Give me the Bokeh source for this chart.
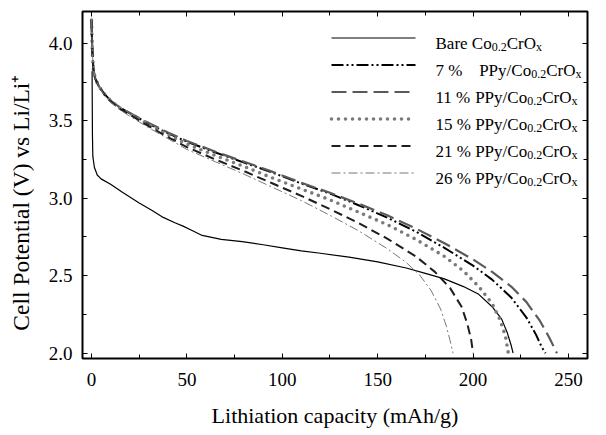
from bokeh.plotting import figure
from bokeh.models import LinearAxis, SingleIntervalTicker, Range1d, ColumnDataSource, PrintfTickFormatter, CustomJSTickFormatter
from bokeh.embed import file_html
from bokeh.resources import INLINE
from bokeh.core.properties import value

# ---------------- data ----------------
cap_bare = [0.3, 0.4, 0.5, 0.7, 1.5, 3, 5, 10, 16, 25, 32, 37, 44, 48, 53, 58, 68, 79, 90, 100,
            110, 120, 135, 150, 165, 175, 185, 195, 203, 210, 215, 218, 220, 221]
v_bare = [3.82, 3.6, 3.4, 3.27, 3.2, 3.15, 3.125, 3.09, 3.04, 2.97, 2.92, 2.88, 2.84, 2.82, 2.79, 2.76,
          2.735, 2.72, 2.70, 2.68, 2.66, 2.645, 2.62, 2.59, 2.55, 2.515, 2.48, 2.43, 2.38, 2.30, 2.22,
          2.13, 2.05, 2.0]

cap_7 = [0, 0.2, 0.5, 1, 2, 4, 7, 10, 15, 20, 30, 40, 50, 65, 80, 95, 110, 125, 140, 155, 170, 185,
         200, 210, 220, 228, 233, 236, 238]
v_7 = [4.15, 4.05, 3.93, 3.83, 3.77, 3.72, 3.67, 3.63, 3.585, 3.55, 3.48, 3.42, 3.365, 3.295, 3.23,
       3.165, 3.095, 3.03, 2.955, 2.875, 2.785, 2.68, 2.565, 2.475, 2.36, 2.23, 2.12, 2.04, 2.0]

cap_11 = [0, 0.2, 0.5, 1, 2, 4, 7, 10, 15, 20, 30, 40, 50, 65, 80, 95, 110, 125, 140, 155, 170, 185,
          200, 210, 220, 228, 235, 240, 244]
v_11 = [4.15, 4.05, 3.93, 3.83, 3.77, 3.72, 3.67, 3.63, 3.585, 3.55, 3.485, 3.425, 3.37, 3.30, 3.235,
        3.17, 3.10, 3.035, 2.965, 2.89, 2.805, 2.71, 2.605, 2.525, 2.43, 2.33, 2.21, 2.10, 2.0]

cap_15 = [0, 0.2, 0.5, 1, 2, 4, 7, 10, 15, 20, 30, 40, 50, 65, 80, 95, 110, 125, 140, 155, 170, 185,
          195, 203, 210, 214, 217, 218.5]
v_15 = [4.15, 4.05, 3.93, 3.83, 3.77, 3.72, 3.67, 3.63, 3.58, 3.545, 3.475, 3.41, 3.35, 3.275, 3.205,
        3.13, 3.06, 2.99, 2.91, 2.83, 2.735, 2.625, 2.53, 2.43, 2.32, 2.22, 2.11, 2.0]

cap_21 = [0, 0.2, 0.5, 1, 2, 4, 7, 10, 15, 20, 30, 40, 50, 65, 80, 95, 110, 125, 140, 155, 170, 180,
          188, 194, 197, 199, 200]
v_21 = [4.15, 4.05, 3.93, 3.83, 3.77, 3.72, 3.665, 3.625, 3.575, 3.54, 3.465, 3.395, 3.33, 3.25, 3.175,
        3.095, 3.015, 2.93, 2.84, 2.74, 2.625, 2.525, 2.42, 2.30, 2.19, 2.09, 2.0]

cap_26 = [0, 0.2, 0.5, 1, 2, 4, 7, 10, 15, 20, 30, 40, 50, 65, 80, 95, 110, 125, 140, 155, 165, 172,
          178, 183, 186, 188, 189.5]
v_26 = [4.15, 4.05, 3.93, 3.83, 3.77, 3.72, 3.66, 3.62, 3.57, 3.53, 3.455, 3.385, 3.315, 3.235, 3.155,
        3.07, 2.985, 2.89, 2.79, 2.675, 2.585, 2.505, 2.405, 2.285, 2.175, 2.08, 2.0]

legend_prefix = ["Bare ", "7 %", "11 % ", "15 % ", "21 % ", "26 % "]
x_label = "Lithiation capacity (mAh/g)"
y_label = "Cell Potential (V) vs Li/Li\u207a"

# ---------------- layout ----------------
W, H = 606, 435
FL, FR, FT, FB = 82, 587, 11, 358          # frame edges in pixels
X0, X1 = -4.72, 260.0
Y0, Y1 = 1.966, 4.205
FONT = "Liberation Serif"

p = figure(width=W, height=H, output_backend="svg", toolbar_location=None,
           x_range=Range1d(X0, X1), y_range=Range1d(Y0, Y1),
           min_border_left=FL, min_border_right=W - FR, min_border_top=FT, min_border_bottom=H - FB)
p.grid.visible = False
p.outline_line_color = "black"
p.outline_line_width = 2
p.background_fill_color = "white"
p.border_fill_color = "white"

xt = SingleIntervalTicker(interval=50, num_minor_ticks=2)
yt = SingleIntervalTicker(interval=0.5, num_minor_ticks=2)


def style(ax, labels=True):
    ax.axis_line_color = None
    ax.major_tick_in = 5
    ax.major_tick_out = 0
    ax.minor_tick_in = 4
    ax.minor_tick_out = 0
    ax.major_tick_line_color = "black"
    ax.minor_tick_line_color = "black"
    ax.major_label_text_font = FONT
    ax.major_label_text_color = "black"
    if labels:
        ax.major_label_text_font_size = "19px"
        ax.major_label_standoff = 10
        ax.axis_label_text_font = FONT
        ax.axis_label_text_font_style = "normal"
        ax.axis_label_text_color = "black"
    else:
        ax.formatter = CustomJSTickFormatter(code="return ''")
        ax.major_label_text_font_size = "1px"
        ax.major_label_standoff = 0


p.xaxis.ticker = xt
p.yaxis.ticker = yt
p.yaxis.formatter = PrintfTickFormatter(format="%.1f")
style(p.xaxis[0])
style(p.yaxis[0])
p.xaxis.axis_label = x_label
p.yaxis.axis_label = y_label + "\u00a0" * 6
p.xaxis.axis_label_text_font_size = "22px"
p.yaxis.axis_label_text_font_size = "23.5px"
p.xaxis.major_label_standoff = 14
p.xaxis.axis_label_standoff = 14
p.yaxis.axis_label_standoff = 12

top = LinearAxis(ticker=xt)
style(top, labels=False)
p.add_layout(top, "above")
right = LinearAxis(ticker=yt)
style(right, labels=False)
p.add_layout(right, "right")

# ---------------- series ----------------
styles = [
    dict(color="black", width=1.2, dash="solid", cap="butt"),          # bare
    dict(color="black", width=2.0, dash="12 3 2 3 2 3", cap="butt"),    # 7 %
    dict(color="#5a5a5a", width=2.2, dash="15 6", cap="butt"),          # 11 %
    dict(color="#7a7a7a", width=3.6, dash="0 7", cap="round"),          # 15 %
    dict(color="#1e1e1e", width=2.0, dash="9 5", cap="butt"),           # 21 %
    dict(color="#777777", width=1.0, dash="9 3 2 3", cap="butt"),       # 26 %
]
series = [(cap_bare, v_bare), (cap_7, v_7), (cap_11, v_11), (cap_15, v_15), (cap_21, v_21), (cap_26, v_26)]

for (xs, ys), st in zip(series, styles):
    p.line(xs, ys, line_color=st["color"], line_width=st["width"], line_dash=st["dash"],
           line_cap=st["cap"])


# ---------------- legend (drawn by hand for sub-scripts) ----------------
def dx(px):
    return X0 + (px - FL) / (FR - FL) * (X1 - X0)


def dy(py):
    return Y1 - (py - FT) / (FB - FT) * (Y1 - Y0)


TW = {' ': 250, '%': 833, '.': 250, '/': 278, 'B': 667, 'C': 667, 'O': 722, 'P': 556, 'a': 444,
      'e': 444, 'o': 500, 'r': 333, 'x': 500, 'y': 500}


def tw(s, size):
    return sum(TW.get(c, 500) for c in s) / 1000.0 * size


MAIN, SUB = 17, 12
row0, row_gap = 37.5, 27
samp_x0, samp_x1, text_x = 331, 415, 435
ppy_x = text_x + tw("11 % ", MAIN)

main_pieces = dict(x=[], y=[], t=[])
sub_pieces = dict(x=[], y=[], t=[])
for i, (pre, st) in enumerate(zip(legend_prefix, styles)):
    yc = row0 + i * row_gap
    p.line([dx(samp_x0), dx(samp_x1)], [dy(yc), dy(yc)], line_color=st["color"], line_width=st["width"],
           line_dash=st["dash"], line_cap=st["cap"])
    base = yc + 5
    if i == 0:
        parts = [("Bare Co", 0), ("0.2", 1), ("CrO", 0), ("x", 1)]
        cx = text_x
    else:
        main_pieces["x"].append(dx(text_x)); main_pieces["y"].append(dy(base)); main_pieces["t"].append(pre.strip())
        parts = [("PPy/Co", 0), ("0.2", 1), ("CrO", 0), ("x", 1)]
        cx = ppy_x + (4 if i == 1 else 0)
    for s, is_sub in parts:
        if is_sub:
            sub_pieces["x"].append(dx(cx)); sub_pieces["y"].append(dy(base + 4)); sub_pieces["t"].append(s)
            cx += tw(s, SUB)
        else:
            main_pieces["x"].append(dx(cx)); main_pieces["y"].append(dy(base)); main_pieces["t"].append(s)
            cx += tw(s, MAIN)

p.text(x="x", y="y", text="t", source=ColumnDataSource(main_pieces), text_font=value(FONT),
       text_font_size=f"{MAIN}px", text_color="black", text_baseline="alphabetic", text_align="left")
p.text(x="x", y="y", text="t", source=ColumnDataSource(sub_pieces), text_font=value(FONT),
       text_font_size=f"{SUB}px", text_color="black", text_baseline="alphabetic", text_align="left")

open("out.html", "w").write(file_html(p, INLINE))
